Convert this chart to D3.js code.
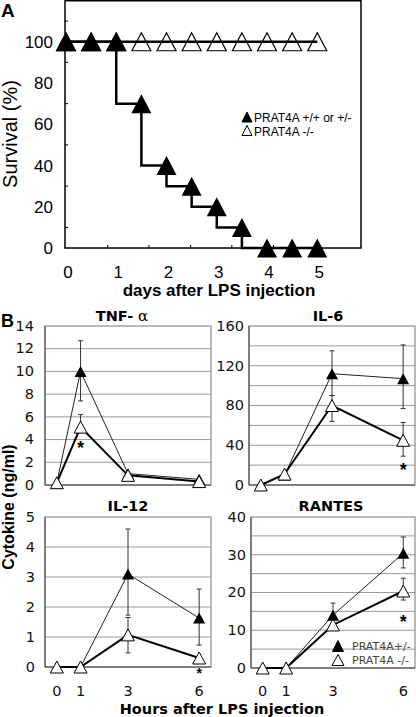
<!DOCTYPE html>
<html><head><meta charset="utf-8">
<script src="https://cdn.jsdelivr.net/npm/d3@7"></script>
<style>body{margin:0;background:#fff}svg{display:block}</style>
</head><body>
<svg id="c" width="416" height="717"></svg>
<script>
// ---------- Panel A data ----------
const survDays = [0, 0.5, 1, 1.5, 2, 2.5, 3, 3.5, 4, 4.5, 5];
const survWT   = [100, 100, 100, 70, 40, 30, 20, 10, 0, 0, 0];
const survKO   = [100, 100, 100, 100, 100, 100, 100, 100, 100, 100, 100];
const survYTicks = [0, 20, 40, 60, 80, 100];
const survYMinor = [10, 30, 50, 70, 90, 110];
const survXTicks = [0, 1, 2, 3, 4, 5];
const survXMinor = [0.83, 1.65, 2.48, 3.3, 4.13, 4.95];
const legendA = ["PRAT4A +/+ or +/-", "PRAT4A -/-"];

// ---------- Panel B data ----------
const hours = [0, 1, 3, 6];
const tnfWT = [0.2, 10.0, 1.0, 0.5];
const tnfWTHi = [null, 12.7, null, null];
const tnfWTLo = [null, 7.4, null, null];
const tnfKO = [0.2, 5.1, 0.85, 0.3];
const tnfKOHi = [null, 6.2, null, null];
const tnfKOLo = [null, 4.6, null, null];

const il6WT = [0, 10, 112, 107];
const il6WTHi = [null, null, 135, 141];
const il6WTLo = [null, null, 90, 77];
const il6KO = [0, 11, 80, 45];
const il6KOHi = [null, null, 90, 63];
const il6KOLo = [null, null, 64, 29];

const il12WT = [0, 0, 3.1, 1.63];
const il12WTHi = [null, null, 4.6, 2.6];
const il12WTLo = [null, null, 1.73, 0.73];
const il12KO = [0, 0, 1.07, 0.3];
const il12KOHi = [null, null, 1.65, null];
const il12KOLo = [null, null, 0.47, null];

const rantesWT = [0, 0, 14, 30.4];
const rantesWTHi = [null, null, 17.2, 34.7];
const rantesWTLo = [null, null, 11, 26.5];
const rantesKO = [0, 0, 11.4, 20.4];
const rantesKOHi = [null, null, null, 23.8];
const rantesKOLo = [null, null, null, 18];

const legendB = ["PRAT4A+/-", "PRAT4A -/-"];

const svg = d3.select("#c");
const ARIAL = "'Liberation Sans', Arial, sans-serif";
const DJV = "'DejaVu Sans', sans-serif";
const tri = (w, h) => `M0,${-h/2}L${w/2},${h/2}L${-w/2},${h/2}Z`;

// ================= Panel A =================
(function(){
  const x = d3.scaleLinear().domain([0, 5.87]).range([66, 361]);
  const y = d3.scaleLinear().domain([0, 120]).range([248, 0.5]);
  const g = svg.append("g");
  g.append("rect").attr("x", 65).attr("y", 0.75).attr("width", 296).attr("height", 247.25)
    .attr("fill", "none").attr("stroke", "#000").attr("stroke-width", 1.5);
  g.selectAll(".ym").data(survYMinor).join("line")
    .attr("x1", 65).attr("x2", 68).attr("y1", d => y(d)).attr("y2", d => y(d))
    .attr("stroke", "#000").attr("stroke-width", 1);
  g.selectAll(".xm").data(survXMinor).join("line")
    .attr("x1", d => x(d)).attr("x2", d => x(d)).attr("y1", 248).attr("y2", 245)
    .attr("stroke", "#000").attr("stroke-width", 1);
  g.selectAll(".yl").data(survYTicks).join("text")
    .attr("x", 53).attr("y", d => y(d)).attr("dy", "0.36em")
    .attr("text-anchor", "end").attr("font-family", ARIAL).attr("font-size", 17)
    .text(d => d);
  g.selectAll(".xl").data(survXTicks).join("text")
    .attr("x", d => x(d) + 2).attr("y", 278)
    .attr("text-anchor", "middle").attr("font-family", ARIAL).attr("font-size", 17)
    .text(d => d);
  g.append("text").attr("x", 219).attr("y", 296).attr("text-anchor", "middle")
    .attr("font-family", ARIAL).attr("font-weight", "bold").attr("font-size", 17)
    .text("days after LPS injection");
  g.append("text").attr("transform", "translate(17,134) rotate(-90)")
    .attr("text-anchor", "middle").attr("font-family", ARIAL).attr("font-size", 20)
    .text("Survival (%)");
  g.append("text").attr("x", 1).attr("y", 17).attr("font-family", ARIAL)
    .attr("font-weight", "bold").attr("font-size", 19).text("A");
  const koPts = survDays.map((d, i) => [d, survKO[i]]);
  const wtPts = survDays.map((d, i) => [d, survWT[i]]);
  g.append("path").attr("d", d3.line().x(d => x(d[0])).y(d => y(d[1]))(koPts))
    .attr("fill", "none").attr("stroke", "#000").attr("stroke-width", 2.5);
  g.append("path").attr("d", d3.line().curve(d3.curveStepBefore).x(d => x(d[0])).y(d => y(d[1]))(wtPts))
    .attr("fill", "none").attr("stroke", "#000").attr("stroke-width", 2.5);
  g.selectAll(".ko").data(koPts).join("path")
    .attr("transform", d => `translate(${x(d[0])},${y(d[1])})`)
    .attr("d", tri(19, 18)).attr("fill", "none").attr("stroke", "#000").attr("stroke-width", 1.2);
  g.selectAll(".wt").data(wtPts).join("path")
    .attr("transform", d => `translate(${x(d[0])},${y(d[1])})`)
    .attr("d", tri(20, 19)).attr("fill", "#000");
  const lg = g.append("g");
  legendA.forEach((t, i) => {
    lg.append("path").attr("transform", `translate(247,${117 + i * 13.5})`)
      .attr("d", tri(10, 10)).attr("fill", i === 0 ? "#000" : "#fff")
      .attr("stroke", "#000").attr("stroke-width", 1);
    lg.append("text").attr("x", 254).attr("y", 122 + i * 13.5)
      .attr("font-family", ARIAL).attr("font-size", 12).text(t);
  });
})();

// ================= Panel B =================
function cytoPanel(opt) {
  const x = d3.scaleLinear().domain([-0.5, 6.5]).range([opt.x0, opt.x1]);
  const y = d3.scaleLinear().domain([0, opt.ymax]).range([opt.y0, opt.y1]);
  const g = svg.append("g");
  g.selectAll(".gr").data(d3.range(opt.grid, opt.ymax, opt.grid)).join("line")
    .attr("x1", opt.x0).attr("x2", opt.x1).attr("y1", d => y(d)).attr("y2", d => y(d))
    .attr("stroke", "#9a9a9a").attr("stroke-width", 1);
  g.append("rect").attr("x", opt.x0).attr("y", opt.y1).attr("width", opt.x1 - opt.x0)
    .attr("height", opt.y0 - opt.y1).attr("fill", "none").attr("stroke", "#777").attr("stroke-width", 1);
  g.append("line").attr("x1", opt.x0).attr("x2", opt.x1).attr("y1", opt.y0).attr("y2", opt.y0)
    .attr("stroke", "#444").attr("stroke-width", 1.2);
  g.append("line").attr("x1", opt.x0).attr("x2", opt.x0).attr("y1", opt.y0).attr("y2", opt.y1)
    .attr("stroke", "#444").attr("stroke-width", 1);
  g.selectAll(".yl").data(d3.range(0, opt.ymax + 0.001, opt.label)).join("text")
    .attr("x", opt.lx).attr("y", d => y(d)).attr("dy", "0.33em").attr("text-anchor", "end")
    .attr("font-family", DJV).attr("font-size", 14.5).attr("fill", "#111").text(d => d);
  if (opt.xlabels) {
    g.selectAll(".xl").data(hours).join("text")
      .attr("x", d => x(d)).attr("y", 695.5).attr("text-anchor", "middle")
      .attr("font-family", DJV).attr("font-size", 14.5).attr("fill", "#111").text(d => d);
  }
  const tt = g.append("text").attr("x", opt.tx).attr("y", opt.ty).attr("text-anchor", "middle")
    .attr("font-family", DJV).attr("font-weight", "bold").attr("font-size", 14.5);
  if (opt.alpha) {
    tt.append("tspan").text(opt.title);
    tt.append("tspan").attr("font-family", "'DejaVu Serif', 'Liberation Serif', serif")
      .attr("font-weight", "normal").attr("font-size", 15).text(" α");
  } else tt.text(opt.title);
  const wt = hours.map((h, i) => ({h, v: opt.wt[i], hi: opt.wtHi[i], lo: opt.wtLo[i]}));
  const ko = hours.map((h, i) => ({h, v: opt.ko[i], hi: opt.koHi[i], lo: opt.koLo[i]}));
  const line = d3.line().x(d => x(d.h)).y(d => y(d.v));
  g.append("path").attr("d", line(wt)).attr("fill", "none").attr("stroke", "#222").attr("stroke-width", 1);
  g.append("path").attr("d", line(ko)).attr("fill", "none").attr("stroke", "#000").attr("stroke-width", 2);
  const eb = (data) => {
    data.forEach(d => {
      [d.hi, d.lo].forEach(e => {
        if (e === null || e === undefined) return;
        g.append("line").attr("x1", x(d.h)).attr("x2", x(d.h)).attr("y1", y(d.v)).attr("y2", y(e))
          .attr("stroke", "#333").attr("stroke-width", 1);
        g.append("line").attr("x1", x(d.h) - 2.5).attr("x2", x(d.h) + 2.5).attr("y1", y(e)).attr("y2", y(e))
          .attr("stroke", "#333").attr("stroke-width", 1);
      });
    });
  };
  eb(wt); eb(ko);
  g.selectAll(".mw").data(wt).join("path")
    .attr("transform", d => `translate(${x(d.h)},${y(d.v)})`)
    .attr("d", tri(12, 11)).attr("fill", "#000");
  g.selectAll(".mk").data(ko).join("path")
    .attr("transform", d => `translate(${x(d.h)},${y(d.v)})`)
    .attr("d", tri(13, 12)).attr("fill", "#fff").attr("stroke", "#000").attr("stroke-width", 1);
  if (opt.star) {
    g.append("text").attr("x", x(opt.star[0])).attr("y", y(opt.star[1])).attr("dy", "0.6em")
      .attr("text-anchor", "middle").attr("font-family", ARIAL).attr("font-weight", "bold")
      .attr("font-size", opt.starSize || 18).text("*");
  }
  return {x, y, g};
}

cytoPanel({x0: 45, x1: 211, y0: 485, y1: 326, ymax: 14, grid: 2, label: 2, lx: 34,
  tx: 122, ty: 321, title: "TNF-", alpha: true,
  wt: tnfWT, wtHi: tnfWTHi, wtLo: tnfWTLo, ko: tnfKO, koHi: tnfKOHi, koLo: tnfKOLo,
  star: [1, 3.7]});
cytoPanel({x0: 249, x1: 415, y0: 485, y1: 326, ymax: 160, grid: 20, label: 40, lx: 244,
  tx: 328, ty: 321, title: "IL-6",
  wt: il6WT, wtHi: il6WTHi, wtLo: il6WTLo, ko: il6KO, koHi: il6KOHi, koLo: il6KOLo,
  star: [6, 20]});
cytoPanel({x0: 45, x1: 211, y0: 667, y1: 517, ymax: 5, grid: 1, label: 1, lx: 35,
  tx: 128, ty: 511, title: "IL-12", xlabels: true,
  wt: il12WT, wtHi: il12WTHi, wtLo: il12WTLo, ko: il12KO, koHi: il12KOHi, koLo: il12KOLo,
  star: [6, -0.1], starSize: 14});
cytoPanel({x0: 251, x1: 415, y0: 668, y1: 517, ymax: 40, grid: 5, label: 10, lx: 246,
  tx: 331, ty: 511, title: "RANTES", xlabels: true,
  wt: rantesWT, wtHi: rantesWTHi, wtLo: rantesWTLo, ko: rantesKO, koHi: rantesKOHi, koLo: rantesKOLo,
  star: [6, 13.5]});

legendB.forEach((t, i) => {
  svg.append("path").attr("transform", `translate(338,${646 + i * 14})`)
    .attr("d", i === 0 ? tri(11, 11) : tri(12, 11)).attr("fill", i === 0 ? "#000" : "#fff")
    .attr("stroke", "#000").attr("stroke-width", 1);
  svg.append("text").attr("x", 352).attr("y", 650 + i * 13.5)
    .attr("font-family", DJV).attr("font-size", 11).attr("fill", "#444").text(t);
});

svg.append("text").attr("x", 1).attr("y", 327).attr("font-family", ARIAL)
  .attr("font-weight", "bold").attr("font-size", 18).text("B");
svg.append("text").attr("transform", "translate(14,507) rotate(-90)")
  .attr("text-anchor", "middle").attr("font-family", ARIAL).attr("font-weight", "bold")
  .attr("font-size", 16).text("Cytokine (ng/ml)");
svg.append("text").attr("x", 222).attr("y", 713.5).attr("text-anchor", "middle")
  .attr("font-family", DJV).attr("font-weight", "bold").attr("font-size", 14.5)
  .text("Hours after LPS injection");
</script>
</body></html>
